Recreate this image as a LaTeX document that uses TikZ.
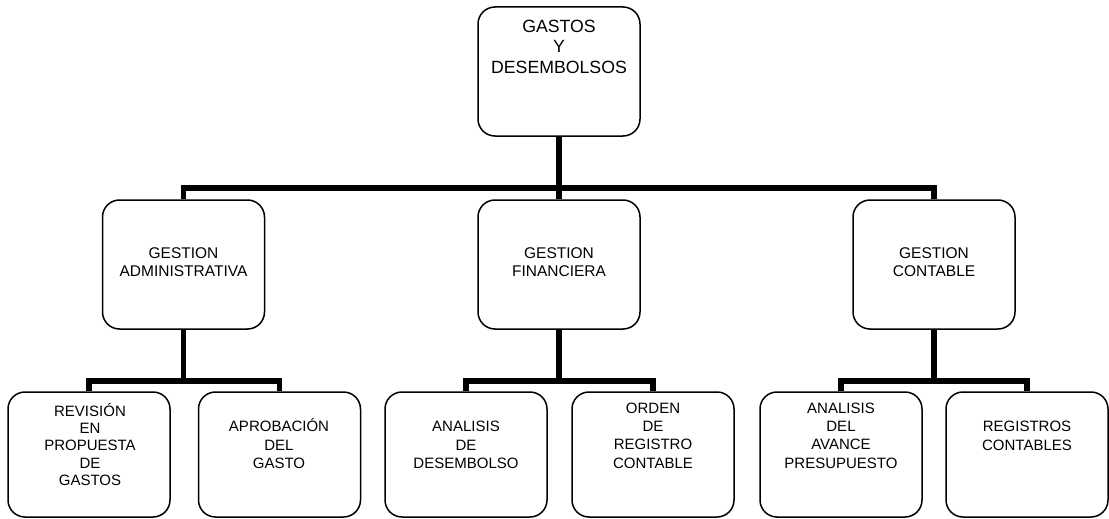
\documentclass[tikz,border=0pt]{standalone}
\usepackage{fontspec}
\setmainfont{Liberation Sans}
% zero-width strut that fixes the height of a label's first line
\newcommand{\lnstrut}{\rule{0pt}{1em}}
\begin{document}
\begin{tikzpicture}[x=1pt,y=-1pt,
  box/.style={draw, line width=1.5pt, rounded corners=17pt,
    minimum width=162pt, minimum height=129pt, inner sep=0pt},
  leaf/.style={box, minimum height=125pt},
  lbl/.style={anchor=north, align=center, inner sep=0pt},
  toplbl/.style={lbl, font=\fontsize{17.7}{20.5}\selectfont},
  midlbl/.style={lbl, font=\fontsize{15.5}{18}\selectfont},
  leaflbl/.style={lbl, font=\fontsize{15}{18.2}\selectfont},
  conn/.style={line width=5.5pt, line join=miter},
]
\useasboundingbox (0,0) rectangle (1109,519);

% boxes
\node[box] (top) at (559,71.5) {};
\node[box] (g1) at (183.5,264.5) {};
\node[box] (g2) at (559,264.5) {};
\node[box] (g3) at (934,264.5) {};
\node[leaf] (b1) at (89,454.5) {};
\node[leaf] (b2) at (279.5,454.5) {};
\node[leaf] (b3) at (466,454.5) {};
\node[leaf] (b4) at (653,454.5) {};
\node[leaf] (b5) at (841,454.5) {};
\node[leaf] (b6) at (1027,454.5) {};

% labels
\node[toplbl] (ttop) at (559,14.3) {\lnstrut GASTOS\\Y\\DESEMBOLSOS};
\node[midlbl] (tg1) at (183.5,242.5) {\lnstrut GESTION\\ADMINISTRATIVA};
\node[midlbl] (tg2) at (559,242.5) {\lnstrut GESTION\\FINANCIERA};
\node[midlbl] (tg3) at (934,242.5) {\lnstrut GESTION\\CONTABLE};
\node[leaflbl, font=\fontsize{15}{17.1}\selectfont] (tb1) at (90,401.5)
  {\lnstrut REVISIÓN\\EN\\PROPUESTA\\DE\\GASTOS};
\node[leaflbl] (tb2) at (279,416.7) {\lnstrut APROBACIÓN\\DEL\\GASTO};
\node[leaflbl] (tb3) at (466,416.7) {\lnstrut ANALISIS\\DE\\DESEMBOLSO};
\node[leaflbl] (tb4) at (653,398.3) {\lnstrut ORDEN\\DE\\REGISTRO\\CONTABLE};
\node[leaflbl] (tb5) at (841,398.3) {\lnstrut ANALISIS\\DEL\\AVANCE\\PRESUPUESTO};
\node[leaflbl] (tb6) at (1027,416.7) {\lnstrut REGISTROS\\CONTABLES};

% junction points of the connector bars
\path (top.south) ++(0,51) coordinate (bus);
\path (g1.south) ++(0,51) coordinate (j1);
\path (g2.south) ++(0,51) coordinate (j2);
\path (g3.south) ++(0,51) coordinate (j3);

% connectors
\draw[conn] (top.south) -- (g2.north);
\draw[conn] (g1.north) |- (bus) -| (g3.north);
\draw[conn] (g1.south) -- (j1);
\draw[conn] (b1.north) |- (j1) -| (b2.north);
\draw[conn] (g2.south) -- (j2);
\draw[conn] (b3.north) |- (j2) -| (b4.north);
\draw[conn] (g3.south) -- (j3);
\draw[conn] (b5.north) |- (j3) -| (b6.north);
\end{tikzpicture}
\end{document}
